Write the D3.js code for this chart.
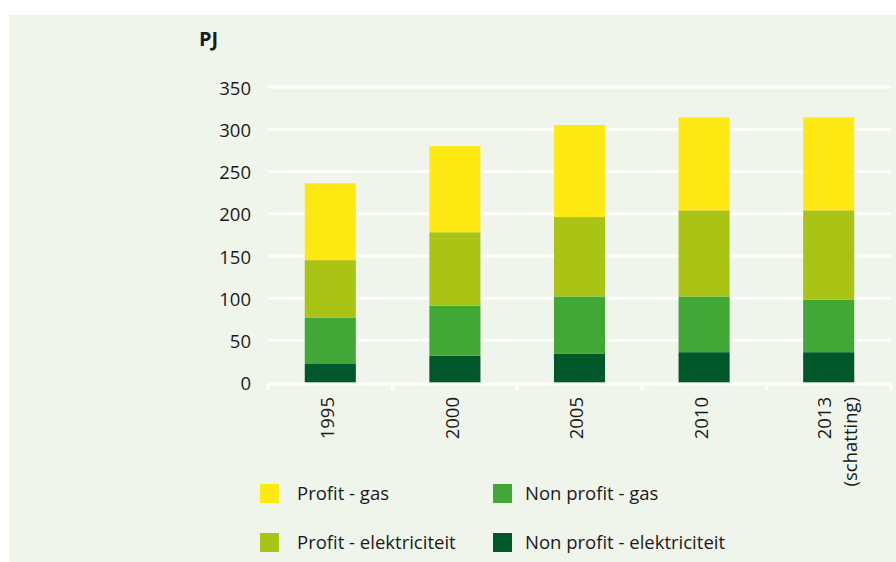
<!DOCTYPE html>
<html>
<head>
<meta charset="utf-8">
<script src="https://cdn.jsdelivr.net/npm/d3@7"></script>
<style>
  body { margin: 0; background: #fff; }
  text { font-family: "Open Sans", "Noto Sans", sans-serif; fill: #1a1a1a; }
</style>
</head>
<body>
<svg id="chart" width="896" height="562"></svg>
<script>
// values (PJ)
var years = ["1995", "2000", "2005", "2010", "2013"];
var nonProfitElek = [22, 32, 34, 36, 36];
var nonProfitGas  = [55, 59, 68, 66, 62];
var profitElek    = [68, 87, 94, 102, 106];
var profitGas     = [91, 102, 109, 110, 110];
var yTicks = [0, 50, 100, 150, 200, 250, 300, 350];

var seriesNames = ["Non profit - elektriciteit", "Non profit - gas", "Profit - elektriciteit", "Profit - gas"];
var seriesColors = ["#00572a", "#41a736", "#a9c414", "#ffe912"];

var rows = years.map(function(y, i) {
  return {
    year: y,
    "Non profit - elektriciteit": nonProfitElek[i],
    "Non profit - gas": nonProfitGas[i],
    "Profit - elektriciteit": profitElek[i],
    "Profit - gas": profitGas[i]
  };
});

var svg = d3.select("#chart");

// panel background
svg.append("rect")
    .attr("x", 9).attr("y", 15)
    .attr("width", 887).attr("height", 547)
    .attr("fill", "#f0f5ec");

var x = d3.scaleBand()
    .domain(years)
    .range([268, 891])
    .paddingInner(0.59)
    .paddingOuter(0.295);

var y = d3.scaleLinear()
    .domain([0, 350])
    .range([382.6, 87]);

// gridlines
svg.append("g")
  .selectAll("line")
  .data(yTicks.filter(function(d) { return d > 0; }))
  .enter().append("line")
    .attr("x1", 268).attr("x2", 891)
    .attr("y1", function(d) { return y(d); })
    .attr("y2", function(d) { return y(d); })
    .attr("stroke", "#fff")
    .attr("stroke-width", 3);

// y labels
svg.append("g")
  .selectAll("text")
  .data(yTicks)
  .enter().append("text")
    .attr("x", 251)
    .attr("y", function(d) { return y(d); })
    .attr("dy", "0.42em")
    .attr("text-anchor", "end")
    .style("font-size", "18.5px")
    .text(function(d) { return d; });

svg.append("text")
    .attr("x", 199).attr("y", 46)
    .style("font-size", "20px")
    .style("font-weight", "bold")
    .text("PJ");

// stacked bars
var stack = d3.stack().keys(seriesNames);
var layers = stack(rows);

svg.append("g")
  .selectAll("g")
  .data(layers)
  .enter().append("g")
    .attr("fill", function(d, i) { return seriesColors[i]; })
  .selectAll("rect")
  .data(function(d) { return d; })
  .enter().append("rect")
    .attr("x", function(d) { return x(d.data.year); })
    .attr("width", x.bandwidth())
    .attr("y", function(d) { return y(d[1]); })
    .attr("height", function(d) { return y(d[0]) - y(d[1]); });

// x axis line with ticks at band edges
var step = x.step();
var edges = d3.range(years.length + 1).map(function(i) { return 268 + i * step; });

svg.append("line")
    .attr("x1", 268).attr("x2", 891)
    .attr("y1", 384).attr("y2", 384)
    .attr("stroke", "#fff")
    .attr("stroke-width", 3);

svg.append("g")
  .selectAll("line")
  .data(edges)
  .enter().append("line")
    .attr("x1", function(d) { return d; })
    .attr("x2", function(d) { return d; })
    .attr("y1", 384).attr("y2", 390)
    .attr("stroke", "#fff")
    .attr("stroke-width", 3);

// rotated year labels
svg.append("g")
  .selectAll("text")
  .data(years)
  .enter().append("text")
    .attr("transform", function(d) {
      var cx = x(d) + x.bandwidth() / 2 + (d === "2013" ? -4 : -3);
      return "translate(" + cx + ",397) rotate(-90)";
    })
    .attr("text-anchor", "end")
    .attr("dy", "0.36em")
    .style("font-size", "18.5px")
    .text(function(d) { return d; });

svg.append("text")
    .attr("transform", "translate(" + (x("2013") + x.bandwidth() / 2 + 22) + ",397) rotate(-90)")
    .attr("text-anchor", "end")
    .attr("dy", "0.36em")
    .style("font-size", "18.5px")
    .text("(schatting)");

// legend
var legendItems = [
  { name: "Profit - gas", col: 0, row: 0 },
  { name: "Non profit - gas", col: 1, row: 0 },
  { name: "Profit - elektriciteit", col: 0, row: 1 },
  { name: "Non profit - elektriciteit", col: 1, row: 1 }
];

var legend = svg.append("g")
  .selectAll("g")
  .data(legendItems)
  .enter().append("g")
    .attr("transform", function(d) {
      return "translate(" + (260 + d.col * 233) + "," + (484 + d.row * 49) + ")";
    });

legend.append("rect")
    .attr("width", 19).attr("height", 19)
    .attr("fill", function(d) { return seriesColors[seriesNames.indexOf(d.name)]; });

legend.append("text")
    .attr("x", function(d) { return d.col === 0 ? 37 : 32; })
    .attr("y", 16)
    .style("font-size", "18.5px")
    .text(function(d) { return d.name; });
</script>
</body>
</html>
